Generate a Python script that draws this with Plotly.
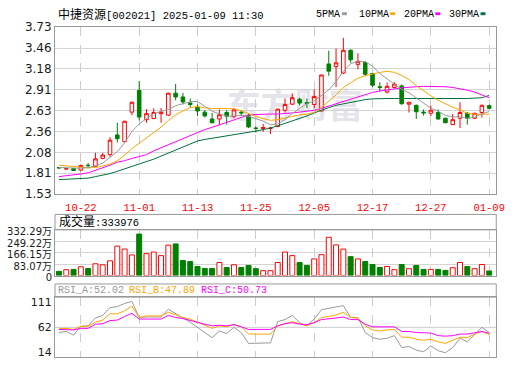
import plotly.graph_objects as go

# ---------------- data ----------------
dates = ["10-17", "10-18", "10-21", "10-22", "10-23", "10-24", "10-25", "10-28", "10-29", "10-30",
         "10-31", "11-01", "11-04", "11-05", "11-06", "11-07", "11-08", "11-11", "11-12", "11-13",
         "11-14", "11-15", "11-18", "11-19", "11-20", "11-21", "11-22", "11-25", "11-26", "11-27",
         "11-28", "11-29", "12-02", "12-03", "12-04", "12-05", "12-06", "12-09", "12-10", "12-11",
         "12-12", "12-13", "12-16", "12-17", "12-18", "12-19", "12-20", "12-23", "12-24", "12-25",
         "12-26", "12-27", "12-30", "12-31", "01-02", "01-03", "01-06", "01-07", "01-08", "01-09"]

opens = [1.880, 1.860, 1.865, 1.846, 1.910, 1.897, 2.000, 2.050, 2.310, 2.220,
         2.610, 2.895, 2.510, 2.525, 2.590, 2.570, 2.860, 2.810, 2.730, 2.675,
         2.610, 2.520, 2.520, 2.605, 2.550, 2.610, 2.565, 2.400, 2.395, 2.395,
         2.420, 2.635, 2.715, 2.780, 2.735, 2.710, 2.625, 3.245, 3.210, 3.125,
         3.425, 3.240, 3.265, 3.120, 2.945, 2.875, 2.935, 2.955, 2.715, 2.700,
         2.610, 2.595, 2.605, 2.530, 2.445, 2.530, 2.595, 2.530, 2.605, 2.695]
highs = [1.885, 1.870, 1.865, 1.920, 1.940, 2.074, 2.075, 2.280, 2.470, 2.495,
         2.750, 3.020, 2.650, 2.660, 2.665, 2.865, 2.980, 2.865, 2.790, 2.710,
         2.640, 2.600, 2.645, 2.635, 2.660, 2.635, 2.585, 2.425, 2.455, 2.415,
         2.655, 2.790, 2.855, 2.800, 2.790, 2.910, 3.100, 3.420, 3.450, 3.590,
         3.440, 3.385, 3.280, 3.130, 3.005, 3.000, 3.005, 2.975, 2.745, 2.710,
         2.645, 2.695, 2.645, 2.535, 2.585, 2.740, 2.610, 2.600, 2.710, 2.710]
lows = [1.865, 1.855, 1.835, 1.830, 1.870, 1.890, 1.990, 2.020, 2.210, 2.210,
        2.570, 2.500, 2.470, 2.520, 2.470, 2.560, 2.765, 2.710, 2.670, 2.560,
        2.540, 2.465, 2.440, 2.445, 2.530, 2.555, 2.400, 2.340, 2.350, 2.320,
        2.410, 2.605, 2.700, 2.700, 2.665, 2.660, 2.620, 3.090, 2.940, 3.110,
        3.260, 3.175, 3.090, 2.940, 2.880, 2.855, 2.920, 2.710, 2.605, 2.520,
        2.565, 2.555, 2.510, 2.465, 2.440, 2.400, 2.445, 2.520, 2.540, 2.645]
closes = [1.875, 1.865, 1.840, 1.905, 1.905, 1.994, 2.045, 2.240, 2.260, 2.490,
          2.740, 2.545, 2.590, 2.605, 2.610, 2.860, 2.810, 2.745, 2.710, 2.625,
          2.560, 2.470, 2.575, 2.555, 2.640, 2.600, 2.415, 2.395, 2.405, 2.400,
          2.650, 2.710, 2.800, 2.730, 2.725, 2.815, 3.100, 3.150, 3.260, 3.425,
          3.300, 3.280, 3.110, 2.965, 2.935, 2.950, 2.980, 2.720, 2.740, 2.615,
          2.600, 2.635, 2.520, 2.470, 2.510, 2.605, 2.530, 2.595, 2.700, 2.660]

# moving-average values before enough in-window closes exist
ma5_head = [1.880, 1.875, 1.870, 1.870]
ma10_head = [1.910, 1.905, 1.895, 1.885, 1.875, 1.880, 1.900, 1.925, 1.970]

ma20 = [1.76, 1.77, 1.78, 1.795, 1.81, 1.84, 1.88, 1.91, 1.95, 1.97,
        2.00, 2.02, 2.05, 2.10, 2.14, 2.18, 2.22, 2.26, 2.31, 2.35,
        2.38, 2.41, 2.44, 2.47, 2.51, 2.54, 2.575, 2.58, 2.585, 2.585,
        2.585, 2.59, 2.60, 2.61, 2.62, 2.635, 2.66, 2.69, 2.73, 2.76,
        2.785, 2.81, 2.84, 2.87, 2.89, 2.90, 2.915, 2.93, 2.94, 2.945,
        2.95, 2.95, 2.95, 2.945, 2.935, 2.92, 2.90, 2.875, 2.84, 2.80]
ma30 = [1.72, 1.725, 1.73, 1.735, 1.74, 1.76, 1.78, 1.80, 1.83, 1.86,
        1.89, 1.92, 1.95, 1.99, 2.03, 2.07, 2.11, 2.15, 2.19, 2.23,
        2.25, 2.265, 2.28, 2.295, 2.31, 2.325, 2.34, 2.36, 2.38, 2.40,
        2.43, 2.46, 2.50, 2.53, 2.56, 2.60, 2.64, 2.67, 2.70, 2.72,
        2.745, 2.76, 2.775, 2.785, 2.79, 2.79, 2.79, 2.79, 2.79, 2.79,
        2.785, 2.785, 2.785, 2.785, 2.785, 2.79, 2.79, 2.795, 2.80, 2.83]

volume_wan = [30.7, 42.8, 45, 64, 52, 85.6, 78.4, 107, 214, 192.5,
              150, 301.6, 159, 171, 144.7, 221, 230, 109, 102, 66,
              52, 52, 95, 59, 78.4, 59, 73.5, 50, 35.7, 35.7,
              95, 171, 145, 95, 73.5, 121, 152, 278, 223, 192.5,
              137.6, 121, 102, 80.6, 59, 66, 42.8, 80.6, 50, 73.5,
              45, 45, 45, 37.8, 57, 95, 66, 50, 80.6, 33.3976]
volume_up = [0, 1, 0, 1, 0, 1, 1, 1, 1, 1,
             1, 0, 1, 1, 1, 1, 0, 0, 0, 0,
             0, 0, 1, 0, 1, 0, 0, 0, 1, 1,
             1, 1, 1, 0, 0, 1, 1, 1, 1, 1,
             0, 1, 0, 0, 0, 1, 1, 0, 1, 0,
             0, 1, 0, 0, 1, 1, 0, 1, 1, 0]

rsi_a = [52, 54, 47, 64, 65, 80, 85, 100, 102, 108,
         112, 81, 82, 82, 82, 97, 88, 80, 72, 62,
         52, 42, 55, 50, 62, 52, 31, 31, 32, 32,
         73, 77, 85, 71, 65, 78, 96, 99, 101, 104,
         81, 81, 52, 42, 39, 41, 46, 23, 25, 18,
         15, 26, 17, 13, 23, 41, 34, 49, 62, 52.02]
rsi_b = [60, 60, 58, 64, 64, 72, 76, 88, 88, 94,
         103, 81, 84, 84, 84, 91, 86, 81, 78, 72,
         66, 60, 65, 63, 68, 63, 49, 49, 49, 49,
         65, 69, 73, 69, 65, 71, 81, 83, 86, 91,
         81, 80, 65, 57, 55, 57, 58, 43, 43, 39,
         37, 39, 34, 31, 37, 43, 42, 49, 54, 47.89]
rsi_c = [58, 58, 57, 60, 60, 68, 69, 75, 76, 83,
         89, 78, 78, 78, 78, 85, 81, 79, 75, 71,
         68, 65, 66, 65, 67, 63, 58, 58, 58, 58,
         65, 69, 71, 68, 67, 71, 77, 78, 80, 82,
         77, 77, 68, 63, 63, 63, 63, 54, 54, 52,
         51, 51, 46, 45, 46, 49, 49, 51, 54, 50.73]

price_ticks = [1.53, 1.805, 2.08, 2.355, 2.63, 2.905, 3.18, 3.455, 3.73]
price_labels = ["1.53", "1.81", "2.08", "2.36", "2.63", "2.91", "3.18", "3.46", "3.73"]
vol_ticks = [0, 83.07, 166.15, 249.22, 332.29]
vol_labels = ["0", "83.07万", "166.15万", "249.22万", "332.29万"]
rsi_ticks = [14, 62, 111]
date_ticks = ["10-22", "11-01", "11-13", "11-25", "12-05", "12-17", "12-27", "01-09"]

title_name = "中捷资源"
title_rest = "[002021] 2025-01-09 11:30"
ma_names = ["5PMA", "10PMA", "20PMA", "30PMA"]


def rolling(vals, n, head):
    out = list(head)
    for i in range(len(head), len(vals)):
        out.append(sum(vals[i - n + 1:i + 1]) / n)
    return out


ma5 = rolling(closes, 5, ma5_head)
ma10 = rolling(closes, 10, ma10_head)

# ---------------- style / layout helpers ----------------
W, H = 520, 365
def fx(p): return p / W
def fy(p): return 1 - p / H

L, R = 56, 505
MAIN_T, MAIN_B = 21, 194.5
VBOX_T, VOL_T, VOL_B = 215.7, 231.7, 279.3
RBOX_T, RSI_T, RSI_B = 288, 301.7, 364

FRAME = "#999999"
GRID = "#d4d4d4"
RED = "#ff0000"
GREEN = "#008000"
MA_COLORS = ["#999999", "#ffa500", "#ff00ff", "#00703c"]
MONO = "Liberation Mono, Noto Sans CJK SC"
SANS = "DejaVu Sans, Noto Sans CJK SC"

fig = go.Figure()

fig.add_trace(go.Candlestick(
    x=dates, open=opens, high=highs, low=lows, close=closes,
    increasing=dict(line=dict(color=RED, width=1), fillcolor="#ffffff"),
    decreasing=dict(line=dict(color=GREEN, width=1), fillcolor=GREEN),
    whiskerwidth=0, xaxis="x", yaxis="y", hoverinfo="skip"))

for vals, col in zip([ma30, ma20, ma10, ma5], MA_COLORS[::-1]):
    fig.add_trace(go.Scatter(x=dates, y=vals, mode="lines",
                             line=dict(color=col, width=1),
                             xaxis="x", yaxis="y", hoverinfo="skip"))

fig.add_trace(go.Bar(
    x=dates, y=volume_wan, width=0.68,
    marker=dict(color=["#ffffff" if u else GREEN for u in volume_up],
                line=dict(color=[RED if u else GREEN for u in volume_up], width=1)),
    xaxis="x2", yaxis="y2", hoverinfo="skip"))

for vals, col in zip([rsi_a, rsi_b, rsi_c], ["#999999", "#ffa500", "#ff00ff"]):
    fig.add_trace(go.Scatter(x=dates, y=vals, mode="lines",
                             line=dict(color=col, width=1),
                             xaxis="x3", yaxis="y3", hoverinfo="skip"))

xr = [-0.54, 59.97]
xcommon = dict(domain=[fx(L), fx(R)], range=xr, type="category",
               tickmode="array", tickvals=date_ticks, ticktext=date_ticks,
               showgrid=True, gridcolor="#cccccc", griddash="dash", gridwidth=1,
               showline=True, mirror=True, linecolor=FRAME, linewidth=1,
               ticks="", zeroline=False, fixedrange=True)
ycommon = dict(showline=True, mirror=True, linecolor=FRAME, linewidth=1,
               ticks="", zeroline=False, gridcolor=GRID, gridwidth=1,
               tickmode="array", fixedrange=True)

fig.update_layout(
    width=W, height=H, margin=dict(l=0, r=0, t=0, b=0),
    paper_bgcolor="white", plot_bgcolor="white", showlegend=False,
    font=dict(family=SANS, size=11, color="#1a1a1a"),
    xaxis=dict(xcommon, anchor="y", rangeslider=dict(visible=False),
               tickfont=dict(family=MONO, size=10.5, color=RED), ticklabelstandoff=3),
    xaxis2=dict(xcommon, anchor="y2", showticklabels=False),
    xaxis3=dict(xcommon, anchor="y3", showticklabels=False),
    yaxis=dict(ycommon, domain=[fy(MAIN_B), fy(MAIN_T)], range=[1.53, 3.73],
               tickvals=price_ticks, ticktext=price_labels, anchor="x",
               tickfont=dict(family=SANS, size=12, color="#1a1a1a")),
    yaxis2=dict(ycommon, domain=[fy(VOL_B), fy(VOL_T)], range=[0, 332.29],
                tickvals=vol_ticks, ticktext=vol_labels, anchor="x2",
                tickfont=dict(family=SANS, size=10, color="#1a1a1a"), ticklabelshift=2),
    yaxis3=dict(ycommon, domain=[fy(RSI_B), fy(RSI_T)], range=[4.7, 120.3],
                tickvals=rsi_ticks, ticktext=[str(t) for t in rsi_ticks], anchor="x3",
                showgrid=False, tickfont=dict(family=SANS, size=11, color="#1a1a1a")),
)

shapes = [
    # faint watermark behind the candles
    dict(type="rect", xref="paper", yref="paper", x0=fx(225), x1=fx(375),
         y0=fy(125), y1=fy(87), line=dict(width=0), fillcolor="rgba(0,0,0,0)", layer="below",
         label=dict(text="东方财富", textposition="middle center",
                    font=dict(family="Noto Sans CJK SC", size=34, color="#e4e4ea", weight="bold"))),
    # header boxes
    dict(type="rect", xref="paper", yref="paper", x0=fx(L), x1=fx(R), y0=fy(VOL_T), y1=fy(VBOX_T),
         line=dict(color=FRAME, width=1)),
    dict(type="rect", xref="paper", yref="paper", x0=fx(L), x1=fx(R), y0=fy(RSI_T), y1=fy(RBOX_T),
         line=dict(color=FRAME, width=1)),
    # RSI mid line
    dict(type="line", xref="x3 domain", x0=0, x1=1, yref="y3", y0=rsi_ticks[1], y1=rsi_ticks[1],
         line=dict(color="#cccccc", width=1), layer="below"),
]

annotations = [
    dict(xref="paper", yref="paper", x=fx(56.5), y=fy(8), xanchor="left", yanchor="middle",
         showarrow=False, text=f'<span style="font-size:12px">{title_name}</span>{title_rest}',
         font=dict(family=MONO, size=10.5, color="#000000")),
    dict(xref="paper", yref="paper", x=fx(57.5), y=fy(224), xanchor="left", yanchor="middle",
         showarrow=False, text=f'<span style="font-size:12px">成交量</span>:{round(volume_wan[-1] * 10000)}',
         font=dict(family=MONO, size=10.5, color="#000000")),
]

# MA legend at top right
leg_x = [320, 363, 409, 455]
for name, col, x in zip(ma_names, MA_COLORS, leg_x):
    annotations.append(dict(xref="paper", yref="paper", x=fx(x), y=fy(8), xanchor="left",
                            yanchor="middle", showarrow=False, text=name,
                            font=dict(family=MONO, size=10, color="#000000")))
    sw = x + len(name) * 6 + 4
    shapes.append(dict(type="rect", xref="paper", yref="paper", x0=fx(sw), x1=fx(sw + 5),
                       y0=fy(8.5), y1=fy(5.5), line=dict(width=0), fillcolor=col))

# RSI header
for lab, vals, col, x in zip(["RSI_A", "RSI_B", "RSI_C"], [rsi_a, rsi_b, rsi_c],
                             ["#999999", "#ffa500", "#ff00ff"], [57.3, 129.3, 202.7]):
    annotations.append(dict(xref="paper", yref="paper", x=fx(x), y=fy(295), xanchor="left",
                            yanchor="middle", showarrow=False, text=f"{lab}:{vals[-1]:.2f}",
                            font=dict(family=MONO, size=10, color=col)))

fig.update_layout(shapes=shapes, annotations=annotations)
fig.write_html("out.html")
